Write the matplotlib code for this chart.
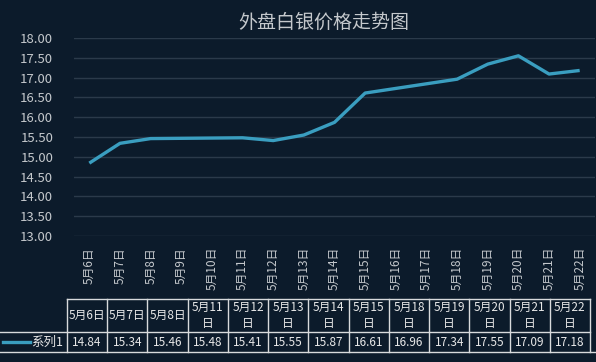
import matplotlib
matplotlib.use("Agg")
import matplotlib.pyplot as plt

plt.rcParams['font.family'] = ['Noto Sans CJK SC', 'DejaVu Sans']

# 数据
dates = ["5月6日", "5月7日", "5月8日", "5月11日", "5月12日", "5月13日", "5月14日",
         "5月15日", "5月18日", "5月19日", "5月20日", "5月21日", "5月22日"]
prices = [14.84, 15.34, 15.46, 15.48, 15.41, 15.55, 15.87,
          16.61, 16.96, 17.34, 17.55, 17.09, 17.18]
axis_days = list(range(6, 23))
series_name = "系列1"
title = "外盘白银价格走势图"

bg = "#0c1b2b"
line_c = "#3a9ec0"
grid_c = "#2b3a4a"
text_c = "#c4c8cc"
table_c = "#d8dadc"

W, H = 596, 362
fig = plt.figure(figsize=(W / 100, H / 100), dpi=100, facecolor=bg)

# 主图
ax = fig.add_axes([74 / W, (H - 236) / H, (595 - 74) / W, 198 / H])
ax.set_facecolor(bg)
days = [int(d[2:-1]) for d in dates]
ax.plot(days, prices, color=line_c, lw=2.4, solid_capstyle="butt")
ax.set_xlim(5.5, 22.5)
ax.set_ylim(13, 18)
ax.set_yticks([13 + 0.5 * i for i in range(11)])
ax.set_yticklabels([f"{13 + 0.5 * i:.2f}" for i in range(11)])
ax.set_xticks(axis_days)
ax.set_xticklabels([f"5月{d}日" for d in axis_days], rotation=90)
ax.tick_params(axis="y", length=0, pad=15, labelsize=9.5, labelcolor=text_c)
ax.tick_params(axis="x", length=0, pad=8, labelsize=8.5, labelcolor=text_c)
ax.grid(axis="y", color=grid_c, lw=1)
ax.set_axisbelow(True)
for s in ax.spines.values():
    s.set_visible(False)

fig.text(324 / W, 1 - 22 / H, title, ha="center", va="center",
         fontsize=13.7, color=text_c)

# 数据表
tx = fig.add_axes([0, 0, 1, 1])
tx.set_xlim(0, W)
tx.set_ylim(H, 0)
tx.axis("off")
left, right = 67, 590
top, mid, bottom = 299, 332, 352
n = len(dates)
cw = (right - left) / n
tx.plot([left, right], [top, top], color=table_c, lw=1)
tx.plot([0, right], [mid, mid], color=table_c, lw=1)
tx.plot([0, W], [bottom, bottom], color=table_c, lw=1)
for i in range(n + 1):
    x = left + i * cw
    tx.plot([x, x], [top, bottom], color=table_c, lw=1)
for i, (d, p) in enumerate(zip(dates, prices)):
    cx = left + (i + 0.5) * cw
    lab = d if len(d) <= 4 else d[:-1] + "\n" + d[-1]
    tx.text(cx, (top + mid) / 2, lab, ha="center", va="center",
            fontsize=8.5, color="#e8e8e8", linespacing=1.35)
    tx.text(cx, (mid + bottom) / 2, f"{p:.2f}", ha="center", va="center",
            fontsize=8.5, color="#e8e8e8")
tx.plot([3, 30], [342, 342], color=line_c, lw=2.4)
tx.text(63, 342, series_name, ha="right", va="center", fontsize=9, color="#e8e8e8")

fig.savefig("out.png", dpi=100, facecolor=bg)
